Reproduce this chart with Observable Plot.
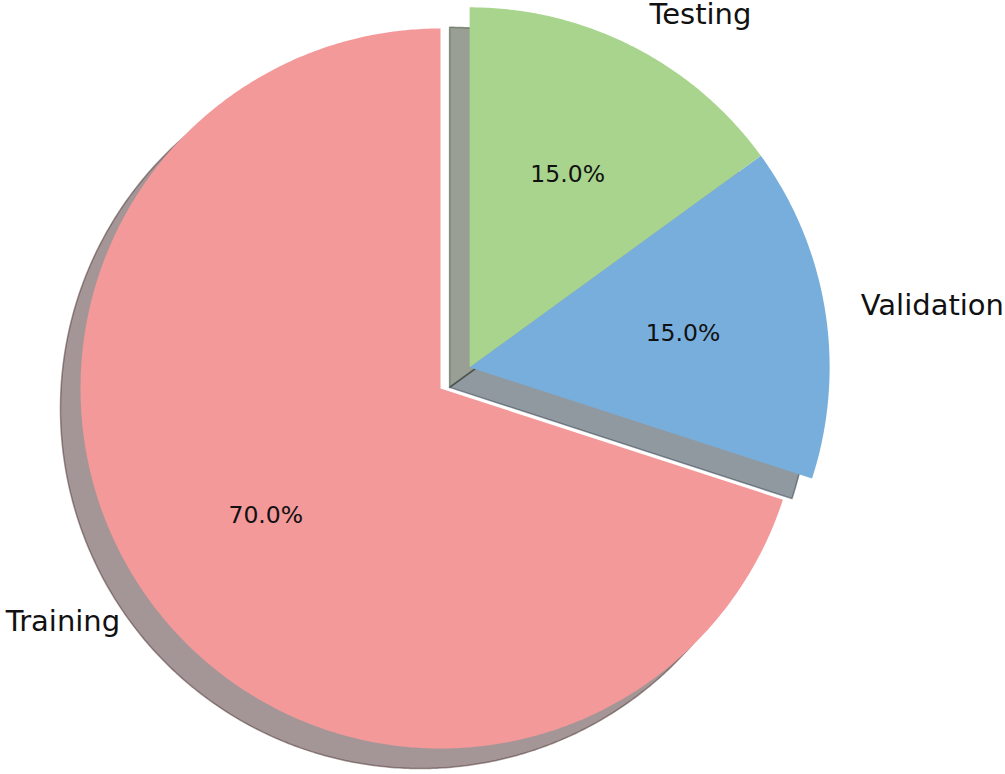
<!DOCTYPE html>
<html>
<head>
<meta charset="utf-8">
<script src="https://cdn.jsdelivr.net/npm/d3@7"></script>
<script src="https://cdn.jsdelivr.net/npm/@observablehq/plot@0.6"></script>
<style>
  html, body { margin: 0; padding: 0; background: #fff; }
  #chart svg { display: block; }
</style>
</head>
<body>
<div id="chart"></div>
<script>
// ---- data ----
const labels = ["Training", "Validation", "Testing"];
const values = [70, 15, 15];
const colors = ["#f4999a", "#77aedc", "#a9d48e"];
const exploded = [false, true, true];   // Validation + Testing pulled out together
const explodeDist = 0.1;                 // fraction of radius
const startAngle = 90;                   // degrees, counter-clockwise
const shadowOffset = [-0.0556, -0.0556]; // shadow shift (radius units)

// ---- geometry ----
const total = d3.sum(values);
const rad = Math.PI / 180;
let cum = 0;
const slices = values.map((v, i) => {
  const a0 = startAngle + cum / total * 360;
  cum += v;
  const a1 = startAngle + cum / total * 360;
  return {label: labels[i], value: v, color: colors[i], a0, a1, mid: (a0 + a1) / 2, i};
});
// common explode direction = middle of the exploded group
const ex = slices.filter(s => exploded[s.i]);
const exMid = (d3.min(ex, s => s.a0) + d3.max(ex, s => s.a1)) / 2;
const exOff = [explodeDist * Math.cos(exMid * rad), explodeDist * Math.sin(exMid * rad)];
slices.forEach(s => { s.off = exploded[s.i] ? exOff : [0, 0]; });

function wedge(s, dx, dy) {
  const pts = [{x: s.off[0] + dx, y: s.off[1] + dy}];
  const n = Math.max(8, Math.ceil((s.a1 - s.a0) * 2));
  for (let k = 0; k <= n; k++) {
    const a = (s.a0 + (s.a1 - s.a0) * k / n) * rad;
    pts.push({x: s.off[0] + dx + Math.cos(a), y: s.off[1] + dy + Math.sin(a)});
  }
  pts.push(pts[0]);
  return pts;
}
function shade(hex) {
  const c = d3.rgb(hex);
  return d3.rgb(c.r * 0.3, c.g * 0.3, c.b * 0.3).formatHex();
}

const W = 1005, H = 774, R = 360, CX = 440, CY = 388;

const marks = [];
// shadows (below all wedges)
slices.forEach(s => {
  marks.push(Plot.line(wedge(s, shadowOffset[0], shadowOffset[1]), {
    x: "x", y: "y", curve: "linear",
    fill: shade(s.color), fillOpacity: 0.5,
    stroke: shade(s.color), strokeOpacity: 0.5, strokeWidth: 1.5
  }));
});
// wedges
slices.forEach(s => {
  marks.push(Plot.line(wedge(s, 0, 0), {
    x: "x", y: "y", curve: "linear", fill: s.color, stroke: "none"
  }));
});
// outer labels
const outer = slices.map(s => ({
  text: s.label,
  x: s.off[0] + 1.1 * Math.cos(s.mid * rad),
  y: s.off[1] + 1.1 * Math.sin(s.mid * rad),
  anchor: Math.cos(s.mid * rad) >= 0 ? "start" : "end"
}));
["start", "end"].forEach(anchor => {
  marks.push(Plot.text(outer.filter(d => d.anchor === anchor), {
    x: "x", y: "y", text: "text", textAnchor: anchor, lineAnchor: "middle",
    fontSize: 29, fontFamily: "DejaVu Sans", fill: "#111"
  }));
});
// percentage labels
marks.push(Plot.text(slices.map(s => ({
  text: (s.value / total * 100).toFixed(1) + "%",
  x: s.off[0] + 0.6 * Math.cos(s.mid * rad),
  y: s.off[1] + 0.6 * Math.sin(s.mid * rad)
})), {
  x: "x", y: "y", text: "text", textAnchor: "middle", lineAnchor: "middle",
  fontSize: 23.5, fontFamily: "DejaVu Sans", fill: "#111"
}));

const chart = Plot.plot({
  width: W, height: H,
  margin: 0,
  x: {domain: [-CX / R, (W - CX) / R], axis: null},
  y: {domain: [-(H - CY) / R, CY / R], axis: null},
  style: {background: "#fff", overflow: "visible"},
  marks
});
document.getElementById("chart").appendChild(chart);
</script>
</body>
</html>
